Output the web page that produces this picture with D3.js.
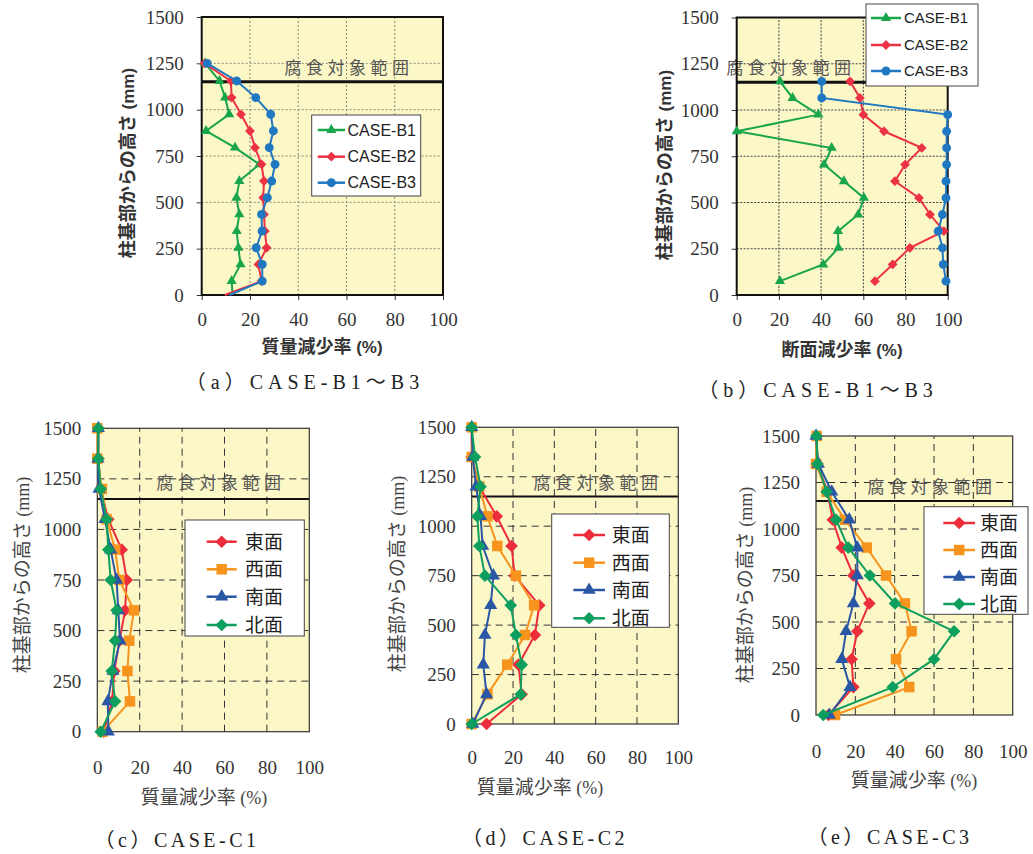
<!DOCTYPE html>
<html>
<head>
<meta charset="utf-8">
<script src="https://cdn.jsdelivr.net/npm/d3@7/dist/d3.min.js"></script>
<style>
  body { margin: 0; background: #fff; }
  svg { display: block; }
</style>
</head>
<body>
<svg id="fig" width="1033" height="854"></svg>
<script>
// ---- data ----
// (a) mass loss, CASE-B1..B3 (height mm)
let heightsA = [0, 75, 165, 255, 345, 435, 525, 615, 705, 795, 885, 975, 1065, 1155, 1250];
let massB1 = [12.8, 12.4, 16.1, 15.2, 14.5, 15.6, 14.4, 15.6, 23.9, 13.8, 1.8, 11.4, 9.7, 7.4, 1.4];
let massB2 = [9.6, 24.8, 23.5, 26.9, 26.2, 25.8, 25.5, 25.8, 24.8, 22.1, 20.0, 16.3, 12.4, 12.1, 1.2];
let massB3 = [11.5, 25.1, 25.1, 22.6, 25.0, 24.8, 27.2, 29.0, 30.4, 28.0, 29.7, 28.6, 22.4, 14.5, 2.3];

// (b) section loss, CASE-B1..B3
let heightsB = [75, 165, 255, 345, 435, 525, 615, 705, 795, 885, 975, 1065, 1155];
let sectB1 = [20.5, 41.0, 48.2, 48.0, 57.6, 60.3, 50.8, 41.4, 45.0, 0, 38.7, 26.5, 20.5];
let sectB2 = [65.5, 73.9, 82.1, 98.2, 91.6, 86.4, 75.0, 79.8, 87.7, 69.8, 60.0, 58.4, 53.7];
let sectB3 = [99.2, 97.9, 97.5, 95.5, 97.5, 99.2, 99.2, 99.5, 99.5, 99.5, 100, 40.3, 40.3];
let caseNamesB = ["CASE-B1", "CASE-B2", "CASE-B3"];

// (c)-(e) mass loss by face
let heightsC = [0, 150, 300, 450, 600, 750, 900, 1050, 1200, 1350, 1500];
let faceNames = ["東面", "西面", "南面", "北面"];
let c1East  = [3.0, 7.0, 8.0, 10.5, 13.1, 13.9, 11.5, 5.2, 1.6, 0.5, 0.5];
let c1West  = [2.5, 15.4, 14.2, 15.1, 17.3, 10.4, 8.4, 4.4, 2.1, 0, 0];
let c1South = [5.2, 5.0, 7.4, 10.7, 9.9, 9.1, 6.3, 3.6, 0.8, 0.3, 0.5];
let c1North = [1.6, 8.4, 6.8, 8.4, 9.1, 6.3, 5.2, 4.4, 1.6, 0.5, 0.5];

let c2East  = [7.2, 24.2, 22.6, 30.6, 32.7, 20.8, 19.3, 12.1, 3.7, 0, 0];
let c2West  = [0, 7.6, 17.2, 25.8, 30.2, 21.4, 12.4, 7.6, 3.7, 0, 0];
let c2South = [0.5, 7.2, 5.6, 6.4, 9.2, 10.5, 5.3, 4.3, 2.1, 0.5, 0];
let c2North = [0, 23.7, 24.2, 21.4, 18.9, 6.4, 3.7, 2.7, 4.3, 1.6, 0];

let c3East  = [6.3, 19.0, 18.1, 21.0, 27.1, 19.0, 13.1, 8.5, 5.8, 0.7, 0.3];
let c3West  = [9.7, 47.4, 40.7, 48.6, 45.2, 35.6, 25.8, 14.7, 5.4, 0, 0.3];
let c3South = [6.8, 17.3, 13.1, 15.3, 19.0, 21.0, 21.0, 16.9, 8.0, 1.2, 0];
let c3North = [3.7, 39.0, 60.0, 70.2, 40.2, 27.4, 16.4, 10.2, 5.4, 0.7, 0.3];

let xTicks = [0, 20, 40, 60, 80, 100];
let yTicks = [0, 250, 500, 750, 1000, 1250, 1500];
let corrosionHeight = 1150;

let svg = d3.select("#fig");
let bg = "#fbf7c7";
let serif = "'Liberation Serif', 'Times New Roman', serif";
let sans = "'Liberation Sans', Arial, sans-serif";
let cjk = "'Noto Sans CJK JP', sans-serif";

let shapeOf = {
  triangle: d3.symbolTriangle,
  diamond: d3.symbolSquare,
  circle: d3.symbolCircle,
  square: d3.symbolSquare
};

function marker(sel, s) {
  sel.attr("d", d3.symbol().type(shapeOf[s.shape]).size(s.size))
    .attr("fill", s.color);
  if (s.shape == "diamond") sel.attr("transform", function(){ return d3.select(this).attr("transform") + " rotate(45)"; });
}

function drawPanel(cfg) {
  let x = d3.scaleLinear().domain([0, 100]).range([cfg.x0, cfg.x1]);
  let y = d3.scaleLinear().domain([0, 1500]).range([cfg.yb, cfg.yt]);
  let g = svg.append("g");

  g.append("rect")
    .attr("x", x(0)).attr("y", y(1500))
    .attr("width", x(100) - x(0)).attr("height", y(0) - y(1500))
    .attr("fill", bg);

  // grid
  g.selectAll(".vg").data([20, 40, 60, 80]).join("line")
    .attr("x1", d => x(d)).attr("x2", d => x(d))
    .attr("y1", y(0)).attr("y2", y(1500))
    .attr("stroke", cfg.gridColor).attr("stroke-width", 1)
    .attr("stroke-dasharray", cfg.gridDash);
  g.selectAll(".hg").data([250, 500, 750, 1000, 1250]).join("line")
    .attr("x1", x(0)).attr("x2", x(100))
    .attr("y1", d => y(d)).attr("y2", d => y(d))
    .attr("stroke", cfg.gridColor).attr("stroke-width", 1)
    .attr("stroke-dasharray", cfg.gridDash);

  // axes
  let fmt = d3.format("d");
  let ya = g.append("g").attr("transform", "translate(" + x(0) + ",0)")
    .call(d3.axisLeft(y).tickValues(yTicks).tickFormat(fmt).tickSize(cfg.tick).tickPadding(cfg.yPad));
  let xa = g.append("g").attr("transform", "translate(0," + y(0) + ")")
    .call(d3.axisBottom(x).tickValues(xTicks).tickFormat(fmt).tickSize(cfg.tick).tickPadding(cfg.xPad));
  [ya, xa].forEach(a => {
    a.select(".domain").remove();
    a.selectAll("line").attr("stroke", "#333");
    a.selectAll("text").attr("font-family", serif).attr("font-size", 19).attr("fill", "#333");
  });

  // corrosion range
  g.append("text")
    .attr("x", cfg.corr[0]).attr("y", cfg.corr[1]).attr("dy", "0.36em")
    .attr("text-anchor", "middle")
    .attr("font-family", cjk).attr("font-size", 17).attr("letter-spacing", 4.5)
    .attr("fill", "#555")
    .text("腐食対象範囲");
  g.append("line")
    .attr("x1", x(0)).attr("x2", x(100))
    .attr("y1", y(corrosionHeight)).attr("y2", y(corrosionHeight))
    .attr("stroke", "#111").attr("stroke-width", cfg.corrWidth);

  // frame
  g.append("rect")
    .attr("x", x(0)).attr("y", y(1500))
    .attr("width", x(100) - x(0)).attr("height", y(0) - y(1500))
    .attr("fill", "none").attr("stroke", cfg.frameColor).attr("stroke-width", cfg.frameWidth);

  // series
  let line = d3.line().x(d => x(d[0])).y(d => y(d[1]));
  cfg.series.forEach(s => {
    let pts = s.values.map((v, i) => [v, cfg.heights[i]]);
    g.append("path").datum(pts)
      .attr("d", line).attr("fill", "none")
      .attr("stroke", s.color).attr("stroke-width", 2);
    g.selectAll(null).data(pts.filter(p => !(cfg.hideZero && p[1] == 0))).join("path")
      .attr("transform", d => "translate(" + x(d[0]) + "," + y(d[1]) + ")")
      .call(marker, s);
  });

  // legend
  let L = cfg.legend;
  g.append("rect")
    .attr("x", L.box[0]).attr("y", L.box[1])
    .attr("width", L.box[2] - L.box[0]).attr("height", L.box[3] - L.box[1])
    .attr("fill", "#fff").attr("stroke", "#444").attr("stroke-width", 1);
  cfg.series.forEach((s, i) => {
    let ly = L.rows[i];
    g.append("line")
      .attr("x1", L.line[0]).attr("x2", L.line[1])
      .attr("y1", ly).attr("y2", ly)
      .attr("stroke", s.color).attr("stroke-width", 2.5);
    g.append("path")
      .attr("transform", "translate(" + (L.line[0] + L.line[1]) / 2 + "," + ly + ")")
      .call(marker, s);
    g.append("text")
      .attr("x", L.textX).attr("y", ly).attr("dy", "0.36em")
      .attr("font-family", L.font).attr("font-size", L.size).attr("fill", "#222")
      .text(s.name);
  });

  // axis titles & caption
  let yt = g.append("text")
    .attr("transform", "translate(" + cfg.yTitle[0] + "," + cfg.yTitle[1] + ") rotate(-90)")
    .attr("text-anchor", "middle").attr("dy", "0.36em")
    .attr("font-family", cjk).attr("font-size", cfg.titleSize)
    .attr("font-weight", cfg.titleWeight).attr("fill", cfg.titleColor);
  yt.append("tspan").text("柱基部からの高さ");
  yt.append("tspan").attr("font-family", cfg.unitFont).attr("font-size", cfg.titleSize - 1).text(" (mm)");

  let xt = g.append("text")
    .attr("x", cfg.xTitle[0]).attr("y", cfg.xTitle[1]).attr("dy", "0.36em")
    .attr("text-anchor", "middle")
    .attr("font-family", cjk).attr("font-size", cfg.titleSize)
    .attr("font-weight", cfg.titleWeight).attr("fill", cfg.titleColor);
  xt.append("tspan").text(cfg.xLabel);
  xt.append("tspan").attr("font-family", cfg.unitFont).attr("font-size", cfg.titleSize - 1).text(" (%)");

  g.append("text")
    .attr("x", cfg.caption[0]).attr("y", cfg.caption[1]).attr("dy", "0.36em")
    .attr("text-anchor", "middle")
    .attr("font-family", serif + ", " + cjk).attr("font-size", 20)
    .attr("letter-spacing", cfg.captionSpacing).attr("fill", "#222")
    .text(cfg.captionText);
}

let green = "#19a54b", red = "#ec3245", blue = "#1f78c1";
let cEast = "#ec2d3b", cWest = "#f7941e", cSouth = "#2a56a6", cNorth = "#0e9f5e";

let bCommon = {
  tick: 5, yPad: 13, xPad: 13,
  gridColor: "#8a8a78", gridDash: "2,2",
  frameColor: "#111", frameWidth: 2, corrWidth: 3,
  titleSize: 18, titleWeight: "bold", titleColor: "#333", unitFont: sans
};
let cCommon = {
  tick: 0, yPad: 16,
  gridColor: "#333", gridDash: "7,5",
  frameColor: "#333", frameWidth: 1.2, corrWidth: 2,
  titleSize: 19, titleWeight: "normal", titleColor: "#444", unitFont: serif,
  captionSpacing: 3.5, hideZero: false, xLabel: "質量減少率"
};

function faceSeries(e, w, s, n) {
  return [
    {name: faceNames[0], values: e, color: cEast, shape: "diamond", size: 80},
    {name: faceNames[1], values: w, color: cWest, shape: "square", size: 110},
    {name: faceNames[2], values: s, color: cSouth, shape: "triangle", size: 75},
    {name: faceNames[3], values: n, color: cNorth, shape: "diamond", size: 80}
  ];
}

// (a)
drawPanel(Object.assign({}, bCommon, {
  x0: 201.7, x1: 443, yt: 17, yb: 295,
  heights: heightsA, hideZero: true,
  series: [
    {name: caseNamesB[0], values: massB1, color: green, shape: "triangle", size: 45},
    {name: caseNamesB[1], values: massB2, color: red, shape: "diamond", size: 48},
    {name: caseNamesB[2], values: massB3, color: blue, shape: "circle", size: 62}
  ],
  corr: [349, 68],
  legend: {box: [311.7, 115, 420.7, 196], rows: [130, 156.7, 182.7], line: [317.7, 345], textX: 347.5, font: sans, size: 16},
  yTitle: [128, 163], xTitle: [322, 347], xLabel: "質量減少率",
  caption: [305, 382], captionText: "（a）CASE-B1～B3", captionSpacing: 5
}));

// (b)
drawPanel(Object.assign({}, bCommon, {
  x0: 736.7, x1: 947.7, yt: 17.5, yb: 295,
  heights: heightsB, hideZero: true,
  gridColor: "#444", gridDash: "2,1.5",
  series: [
    {name: caseNamesB[0], values: sectB1, color: green, shape: "triangle", size: 45},
    {name: caseNamesB[1], values: sectB2, color: red, shape: "diamond", size: 48},
    {name: caseNamesB[2], values: sectB3, color: blue, shape: "circle", size: 62}
  ],
  corr: [791, 68],
  legend: {box: [866, 4, 978, 86], rows: [18, 45, 71], line: [871, 901], textX: 904, font: sans, size: 15},
  yTitle: [665, 165], xTitle: [842, 350], xLabel: "断面減少率",
  caption: [818, 390], captionText: "（b）CASE-B1～B3", captionSpacing: 5
}));

// (c)
drawPanel(Object.assign({}, cCommon, {
  x0: 97.3, x1: 309.3, yt: 428.3, yb: 731.7, xPad: 29,
  heights: heightsC,
  series: faceSeries(c1East, c1West, c1South, c1North),
  corr: [221, 483],
  legend: {box: [185, 520, 304.3, 636], rows: [541.7, 569.3, 596.7, 625], line: [206.7, 236.7], textX: 245, font: cjk, size: 19},
  yTitle: [22, 575], xTitle: [204, 797],
  caption: [177, 840], captionText: "（c）CASE-C1"
}));

// (d)
drawPanel(Object.assign({}, cCommon, {
  x0: 471.7, x1: 678.3, yt: 427.3, yb: 724, xPad: 27,
  heights: heightsC,
  series: faceSeries(c2East, c2West, c2South, c2North),
  corr: [598, 483],
  legend: {box: [551.7, 514, 669.3, 627.3], rows: [535, 562.7, 590, 618.3], line: [573.3, 605], textX: 611.7, font: cjk, size: 19},
  yTitle: [397, 574], xTitle: [540, 787],
  caption: [545, 838], captionText: "（d）CASE-C2"
}));

// (e)
drawPanel(Object.assign({}, cCommon, {
  x0: 816, x1: 1012.7, yt: 436, yb: 715, xPad: 30,
  heights: heightsC,
  series: faceSeries(c3East, c3West, c3South, c3North),
  corr: [932, 487],
  legend: {box: [924, 506.7, 1028, 614.3], rows: [523, 550, 577, 604], line: [943.3, 975], textX: 980, font: cjk, size: 19},
  yTitle: [745, 585], xTitle: [914, 780],
  caption: [890, 837], captionText: "（e）CASE-C3"
}));
</script>
</body>
</html>
